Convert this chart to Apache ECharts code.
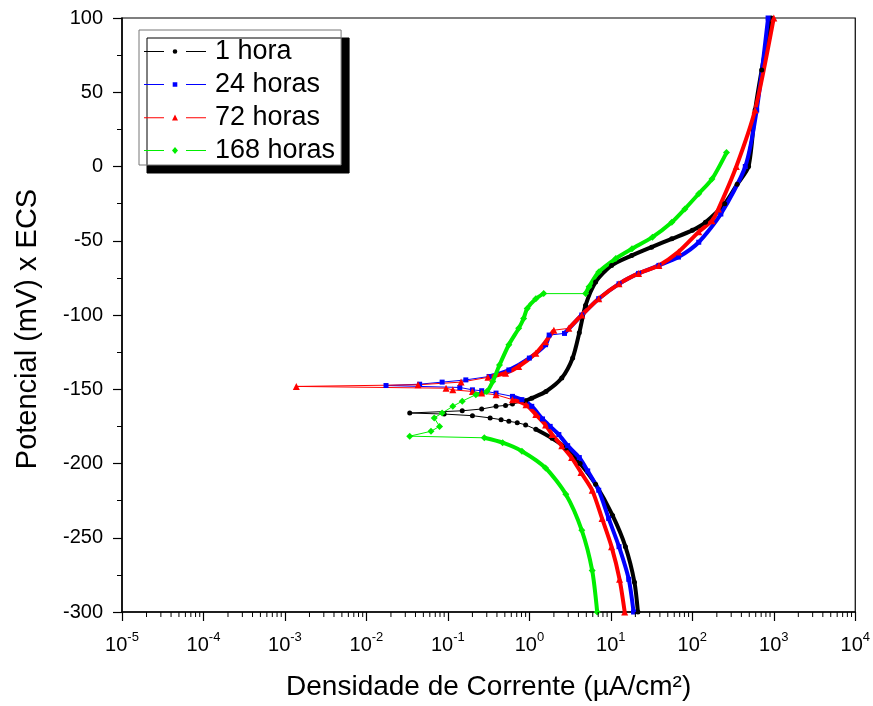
<!DOCTYPE html>
<html>
<head>
<meta charset="utf-8">
<script src="https://cdn.jsdelivr.net/npm/echarts@6/dist/echarts.min.js"></script>
<style>html,body{margin:0;background:#fff}#chart{width:873px;height:706px}</style>
</head>
<body>
<div id="chart"></div>
<script>
const seriesNames = ['1 hora', '24 horas', '72 horas', '168 horas'];
const decades = [-5, -4, -3, -2, -1, 0, 1, 2, 3, 4];

// [corrente µA/cm², potencial mV], in scan order: cathodic branch, Ecorr, anodic branch
const hora1 = [
  [21.5, -300], [19.5, -280], [15.1, -256], [10.5, -235], [6.5, -214], [4.2, -200],
  [2.8, -189.5], [1.9, -183], [1.2, -177], [0.9, -174], [0.71, -172.5], [0.56, -171.6],
  [0.45, -170.5], [0.33, -169.3], [0.2, -167.8], [0.09, -166.7], [0.034, -166],
  [0.15, -164.5], [0.26, -163.3], [0.39, -161.5], [0.51, -160.9], [0.62, -160],
  [0.9, -157.8], [1.07, -156], [1.6, -151.5], [2.5, -142.5], [3.4, -129], [4.1, -112],
  [4.9, -93.4], [6.5, -77.8], [10.2, -66.6], [18, -60], [31.6, -54.3], [56, -48.7],
  [100, -43], [145, -37.6], [250, -25], [355, -12], [490, 0], [590, 38], [710, 65], [930, 100]
];
const horas24 = [
  [19, -300], [16.6, -278], [12.6, -256], [9.4, -237], [7.1, -218], [5.2, -205],
  [4.1, -196], [2.95, -188], [2.3, -180.5], [1.8, -175], [1.45, -170], [1.07, -161.5], [0.81, -157],
  [0.62, -154.8], [0.39, -152.6], [0.26, -151], [0.2, -150.4], [0.14, -148.8], [0.0174, -147.5],
  [0.045, -146.6], [0.085, -145.2], [0.166, -143.7], [0.32, -141.4], [0.56, -137], [1.0, -129],
  [1.58, -120], [1.75, -113.5], [2.7, -112.4], [4.4, -100], [7.1, -89], [12.6, -79],
  [21.9, -72], [38.9, -66.6], [67.6, -61], [120, -51], [224, -32], [447, 0], [617, 38], [851, 100]
];
const horas72 = [
  [14.8, -300], [12.8, -278], [10.2, -256], [7.8, -237], [5.9, -218], [4.3, -206],
  [3.3, -196], [2.5, -188], [1.9, -180.5], [1.58, -174], [1.2, -167], [0.91, -160.5], [0.62, -157],
  [0.39, -153.7], [0.26, -152.6], [0.2, -151.5], [0.115, -150.4], [0.095, -149.3], [0.00138, -148.1],
  [0.043, -147], [0.145, -145.2], [0.31, -142], [0.51, -139.2], [0.74, -134.7], [1.2, -125.8],
  [1.58, -118], [2.0, -110.2], [3.05, -109], [4.4, -100], [7.1, -89], [12.6, -79],
  [21.9, -72], [38.9, -66.6], [67.6, -57.5], [120, -44], [174, -36.5], [209, -28.6],
  [347, 0], [589, 38], [1000, 100]
];
const horas168 = [
  [6.8, -300], [5.9, -272], [4.4, -245], [2.8, -220.7], [1.58, -203], [0.81, -191.7],
  [0.47, -186], [0.28, -182.7], [0.034, -181.6], [0.062, -178.3], [0.079, -175], [0.068, -169.3],
  [0.085, -166], [0.115, -161.5], [0.15, -158], [0.22, -153.7], [0.3, -151.5], [0.355, -144.8],
  [0.43, -133.7], [0.56, -120], [0.74, -109], [0.85, -102.3], [0.94, -95.6], [1.2, -89],
  [1.5, -85.6], [4.9, -85.6], [5.4, -81], [7.1, -71], [11.5, -62], [18.2, -55.4],
  [32.4, -47.6], [56, -37.6], [81, -28.6], [120, -18.3], [174, -8.5], [263, 9.4]
];

// index ranges where the points lie so close they read as a solid trace
const solid1 = [[0, 8], [22, 41]];
const solid24 = [[0, 13], [22, 26], [27, 38]];
const solid72 = [[0, 12], [21, 26], [27, 39]];
const solid168 = [[0, 7], [15, 24], [25, 35]];

const colors = ['#000000', '#0000ff', '#ff0000', '#00ee00'];
const symbols = ['circle', 'rect', 'triangle', 'diamond'];
const symbolSizes = [5, 5, 7, 7];

const font = '"Liberation Sans", Arial, sans-serif';
const lines = 'M0,5.5h20v1h-20zM42,5.5h20v1h-20z';
const icons = [
  'path://' + lines + 'M28.7,6a2.3,2.3 0 1,0 4.6,0a2.3,2.3 0 1,0 -4.6,0z',
  'path://' + lines + 'M28.7,3.7h4.6v4.6h-4.6z',
  'path://' + lines + 'M31,2.8l3,6h-6z',
  'path://' + lines + 'M31,2.4l3,3.6l-3,3.6l-3,-3.6z'
];

const minorTicks = [];
decades.slice(0, -1).forEach(d => {
  for (let k = 2; k <= 9; k++) minorTicks.push(k * Math.pow(10, d));
});

function curve(i, data, solid) {
  const color = colors[i];
  const name = seriesNames[i];
  const list = [{
    name, type: 'line', data, color,
    symbol: symbols[i], symbolSize: symbolSizes[i], showSymbol: true,
    lineStyle: { width: 1, color }, itemStyle: { color },
    emphasis: { disabled: true }
  }];
  solid.forEach(([a, b]) => list.push({
    name, type: 'line', data: data.slice(a, b + 1), color,
    symbol: 'none', smooth: 0.25, lineStyle: { width: 4, color },
    emphasis: { disabled: true }
  }));
  return list;
}

const chart = echarts.init(document.getElementById('chart'));
chart.setOption({
  animation: false,
  backgroundColor: '#fff',
  grid: { left: 122, right: 16, top: 18, bottom: 91, show: true, borderColor: '#000', borderWidth: 1.2 },
  legend: {
    data: seriesNames.map((n, i) => ({ name: n, icon: icons[i] })),
    orient: 'vertical', left: 139, top: 30,
    itemWidth: 62, itemHeight: 12, itemGap: 6,
    padding: [8, 6, 1, 5],
    backgroundColor: '#fff', borderColor: '#777', borderWidth: 1,
    shadowColor: '#000', shadowOffsetX: 8, shadowOffsetY: 8, shadowBlur: 0,
    selectedMode: false,
    itemStyle: { borderWidth: 0 },
    textStyle: { fontSize: 27, fontFamily: font, color: '#000', padding: [0, 0, 0, 4] }
  },
  xAxis: {
    type: 'log', logBase: 10, min: 1e-5, max: 1e4, splitNumber: 9,
    name: 'Densidade de Corrente (µA/cm²)', nameLocation: 'middle', nameGap: 61,
    nameTextStyle: { fontSize: 28, fontFamily: font, color: '#000' },
    axisLine: { onZero: false, lineStyle: { color: '#000', width: 1.5 } },
    axisTick: { length: 9, lineStyle: { color: '#000', width: 1.2 } },
    splitLine: { show: false },
    axisLabel: {
      margin: 19, color: '#000', fontFamily: font,
      formatter: v => '{b|10}{s|' + Math.round(Math.log10(v)) + '}',
      rich: {
        b: { fontSize: 20, lineHeight: 24, fontFamily: font, color: '#000', verticalAlign: 'bottom' },
        s: { fontSize: 13, lineHeight: 13, fontFamily: font, color: '#000', verticalAlign: 'top' }
      }
    }
  },
  yAxis: {
    type: 'value', min: -300, max: 100, interval: 50,
    name: 'Potencial (mV) x ECS', nameLocation: 'middle', nameGap: 80,
    nameTextStyle: { fontSize: 29, fontFamily: font, color: '#000', padding: [0, 28, 0, 0] },
    axisLine: { show: true, onZero: false, lineStyle: { color: '#000', width: 1.5 } },
    axisTick: { length: 9, lineStyle: { color: '#000', width: 1.2 } },
    minorTick: { show: true, splitNumber: 2, length: 5, lineStyle: { color: '#000', width: 1 } },
    splitLine: { show: false },
    axisLabel: { fontSize: 20, fontFamily: font, color: '#000', margin: 19 }
  },
  series: [
    ...curve(0, hora1, solid1),
    ...curve(1, horas24, solid24),
    ...curve(2, horas72, solid72),
    ...curve(3, horas168, solid168),
    {
      type: 'custom', silent: true, clip: false, z: 5,
      data: minorTicks.map(v => [v, -300]),
      encode: { x: 0, y: 1 },
      renderItem: (params, api) => {
        const p = api.coord([api.value(0), -300]);
        return {
          type: 'line',
          shape: { x1: p[0], y1: p[1], x2: p[0], y2: p[1] + 5 },
          style: { stroke: '#000', lineWidth: 1 }
        };
      }
    }
  ]
});
</script>
</body>
</html>
